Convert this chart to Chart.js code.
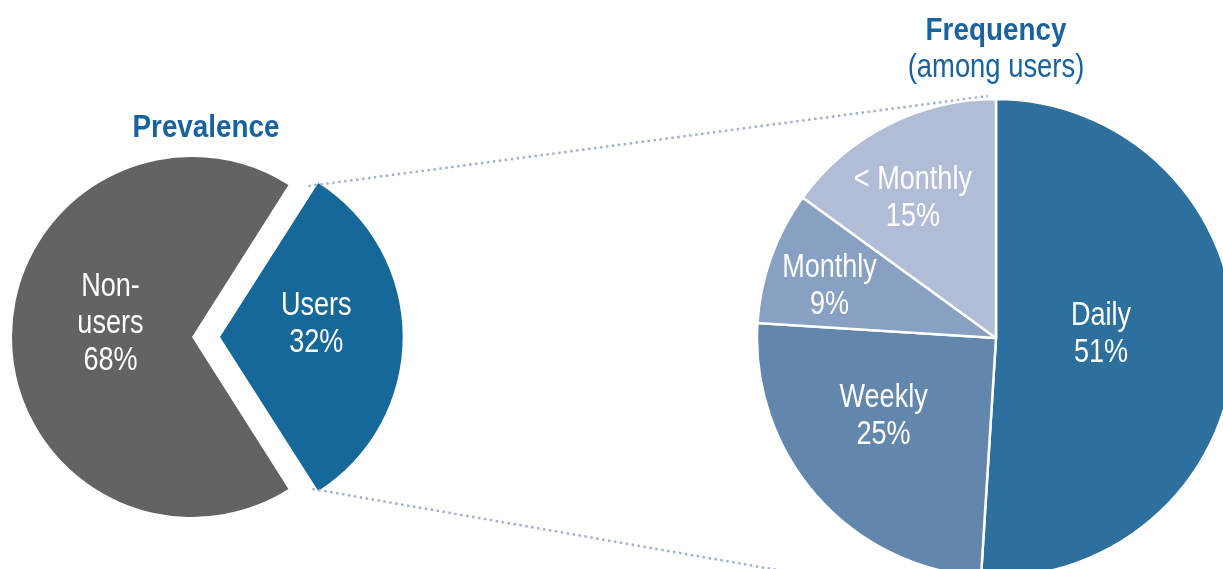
<!DOCTYPE html>
<html>
<head>
<meta charset="utf-8">
<script src="https://cdn.jsdelivr.net/npm/chart.js@4.4.1/dist/chart.umd.min.js"></script>
<style>
  body { margin: 0; background: #fff; }
  #wrap { position: relative; width: 1223px; height: 569px; overflow: hidden; }
  canvas { position: absolute; left: 0; top: 0; }
</style>
</head>
<body>
<div id="wrap">
  <canvas id="prevalence" width="1223" height="569"></canvas>
  <canvas id="frequency" width="1223" height="569"></canvas>
</div>
<script>
// data
const prevalenceLabels = ['Non-users', 'Users'];
const prevalenceNames = [['Non-', 'users'], ['Users']];
const prevalenceValues = [68, 32];

const frequencyLabels = ['Daily', 'Weekly', 'Monthly', '< Monthly'];
const frequencyNames = [['Daily'], ['Weekly'], ['Monthly'], ['< Monthly']];
const frequencyValues = [51, 25, 9, 15];

// styling
const FONT = "'Liberation Sans', Arial, sans-serif";
const titleBlue = '#17629f';
const prevalenceColors = ['#636365', '#166899'];
const frequencyColors = ['#2d6f9d', '#6286ac', '#88a0c2', '#b1bdd6'];
// [radius factor, angle shift in degrees] for each slice label
const prevalencePlace = [[0.46, 10], [0.54, -8]];
const frequencyPlace = [[0.44, -4.5], [0.57, 7], [0.73, -2.4], [0.685, -3.5]];
const usersOffset = 112;

// narrow text: Liberation Sans squeezed horizontally
function narrowText(ctx, text, x, y, font, sx) {
  ctx.save();
  ctx.font = font;
  ctx.translate(x, y);
  ctx.scale(sx, 1);
  ctx.fillText(text, 0, 0);
  ctx.restore();
}

function drawBlock(ctx, lines, x, y) {
  const lh = 37;
  ctx.save();
  ctx.fillStyle = '#fff';
  ctx.textAlign = 'center';
  ctx.textBaseline = 'middle';
  const top = y - (lines.length - 1) * lh / 2;
  lines.forEach((t, i) => narrowText(ctx, t, x, top + i * lh + 1, '33px ' + FONT, 0.82));
  ctx.restore();
}

function sliceLabels(chart, names, values, place) {
  const ctx = chart.ctx;
  const meta = chart.getDatasetMeta(0);
  meta.data.forEach((arc, i) => {
    const off = (arc.options.offset || 0) / 4;
    const mid = (arc.startAngle + arc.endAngle) / 2;
    const cx = arc.x + Math.cos(mid) * off;
    const cy = arc.y + Math.sin(mid) * off;
    const a = mid + place[i][1] * Math.PI / 180;
    const r = arc.outerRadius * place[i][0];
    drawBlock(ctx, names[i].concat([values[i] + '%']), cx + Math.cos(a) * r, cy + Math.sin(a) * r);
  });
}

let freqChart = null;
let prevChart = null;

const prevalencePlugin = {
  id: 'prevalenceExtras',
  afterDatasetsDraw(chart) {
    const ctx = chart.ctx;
    const meta = chart.getDatasetMeta(0);
    const nonUsers = meta.data[0];
    const users = meta.data[1];
    sliceLabels(chart, prevalenceNames, prevalenceValues, prevalencePlace);

    // title
    const off = usersOffset / 4;
    const uMid = (users.startAngle + users.endAngle) / 2;
    const ux = users.x + Math.cos(uMid) * off;
    const uy = users.y + Math.sin(uMid) * off;
    const left = nonUsers.x - nonUsers.outerRadius;
    const right = ux + users.outerRadius;
    ctx.save();
    ctx.fillStyle = titleBlue;
    ctx.textAlign = 'center';
    ctx.textBaseline = 'alphabetic';
    narrowText(ctx, 'Prevalence', (left + right) / 2, users.y - users.outerRadius - 20, 'bold 32px ' + FONT, 0.87);
    ctx.restore();

    // connector lines to the frequency pie
    if (!freqChart) return;
    const fm = freqChart.getDatasetMeta(0).data[0];
    const p1 = [ux + Math.cos(users.startAngle) * users.outerRadius, uy + Math.sin(users.startAngle) * users.outerRadius];
    const p2 = [ux + Math.cos(users.endAngle) * users.outerRadius, uy + Math.sin(users.endAngle) * users.outerRadius];
    const q1 = [fm.x - 8, fm.y - fm.outerRadius - 3];
    const q2 = [fm.x + Math.cos(fm.endAngle) * fm.outerRadius * 1.12, fm.y + Math.sin(fm.endAngle) * fm.outerRadius * 1.12];
    ctx.save();
    ctx.strokeStyle = '#a4b0d0';
    ctx.lineWidth = 2.5;
    ctx.lineCap = 'butt';
    ctx.setLineDash([2.5, 3.5]);
    ctx.beginPath();
    ctx.moveTo(p1[0] - 8, p1[1] + 1);
    ctx.lineTo(q1[0], q1[1]);
    ctx.moveTo(p2[0] - 4, p2[1]);
    ctx.lineTo(q2[0], q2[1]);
    ctx.stroke();
    ctx.restore();
  }
};

const frequencyPlugin = {
  id: 'frequencyExtras',
  afterDatasetsDraw(chart) {
    const ctx = chart.ctx;
    const arc = chart.getDatasetMeta(0).data[0];
    sliceLabels(chart, frequencyNames, frequencyValues, frequencyPlace);
    ctx.save();
    ctx.fillStyle = titleBlue;
    ctx.textAlign = 'center';
    ctx.textBaseline = 'alphabetic';
    narrowText(ctx, 'Frequency', arc.x, arc.y - arc.outerRadius - 59, 'bold 32px ' + FONT, 0.87);
    narrowText(ctx, '(among users)', arc.x, arc.y - arc.outerRadius - 22, '33px ' + FONT, 0.83);
    ctx.restore();
  }
};

freqChart = new Chart(document.getElementById('frequency'), {
  type: 'pie',
  data: {
    labels: frequencyLabels,
    datasets: [{
      data: frequencyValues,
      backgroundColor: frequencyColors,
      borderColor: '#fff',
      borderWidth: 2.5
    }]
  },
  options: {
    responsive: false,
    animation: false,
    events: [],
    radius: 239,
    rotation: 0,
    layout: { padding: { left: 946, right: 177, top: 288, bottom: 181 } },
    plugins: { legend: { display: false }, tooltip: { enabled: false } }
  },
  plugins: [frequencyPlugin]
});

prevChart = new Chart(document.getElementById('prevalence'), {
  type: 'pie',
  data: {
    labels: prevalenceLabels,
    datasets: [{
      data: prevalenceValues,
      backgroundColor: prevalenceColors,
      borderWidth: 0,
      offset: [0, usersOffset]
    }]
  },
  options: {
    responsive: false,
    animation: false,
    events: [],
    radius: 180,
    rotation: 147.6,
    layout: { padding: { left: 0, right: 839, top: 157, bottom: 52 } },
    plugins: { legend: { display: false }, tooltip: { enabled: false } }
  },
  plugins: [prevalencePlugin]
});
</script>
</body>
</html>
